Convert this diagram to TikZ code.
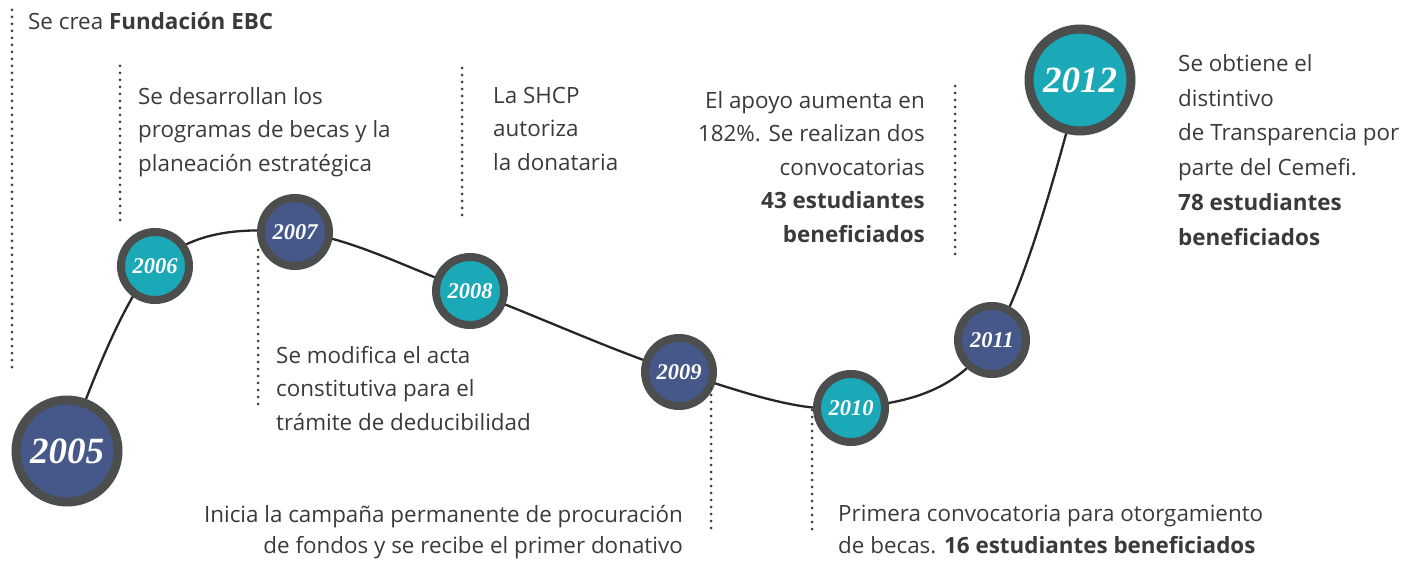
\documentclass[tikz,border=0pt]{standalone}
\usepackage{fontspec}
\setmainfont{Open Sans}
\newfontfamily\yearfont{Liberation Serif}
\usetikzlibrary{backgrounds}
\definecolor{ringgray}{HTML}{4B4E4D}
\definecolor{yblue}{HTML}{46588A}
\definecolor{yteal}{HTML}{1BA9B8}
\definecolor{txt}{HTML}{3A3A3A}
\definecolor{dotc}{HTML}{3C3C3C}
\begin{document}
\begin{tikzpicture}[x=1pt,y=-1pt,
  yr/.style={circle, draw=ringgray, line width=8pt, minimum size=68pt, inner sep=0pt,
    text=white, font=\yearfont\bfseries\itshape\fontsize{22.5}{22.5}\selectfont},
  bigyr/.style={yr, line width=9pt, minimum size=102pt, font=\yearfont\bfseries\itshape\fontsize{37}{37}\selectfont},
  info/.style={inner sep=0pt, text=txt, font=\fontsize{22.4}{33.5}\selectfont},
  dots/.style={dotc, line width=3pt, line cap=round, dash pattern=on 0pt off 7pt},
  tl/.style={line width=2.3pt, color=black!85}
]
\useasboundingbox (0,0) rectangle (1416,561);
% positions
\coordinate (p05) at (67,451);
\coordinate (p06) at (155,266);
\coordinate (p07) at (295,232);
\coordinate (p08) at (470,291);
\coordinate (p09) at (679,372);
\coordinate (p10) at (851,408);
\coordinate (p11) at (992,340);
\coordinate (p12) at (1080,80);
% timeline curve
\draw[tl] plot[smooth, tension=0.6] coordinates {(p05) (p06) (p07) (p08) (p09) (p10) (p11) (p12)};
% year circles
\node[bigyr, fill=yblue] (y05) at (p05) {2005};
\node[yr, fill=yteal] (y06) at (p06) {2006};
\node[yr, fill=yblue] (y07) at (p07) {2007};
\node[yr, fill=yteal] (y08) at (p08) {2008};
\node[yr, fill=yblue] (y09) at (p09) {2009};
\node[yr, fill=yteal] (y10) at (p10) {2010};
\node[yr, fill=yblue] (y11) at (p11) {2011};
\node[bigyr, fill=yteal] (y12) at (p12) {2012};
% dotted guides
\coordinate (d05a) at (12,10);  \coordinate (d05b) at (12,372);
\coordinate (d06a) at (120,66); \coordinate (d06b) at (120,222);
\coordinate (d07a) at (258,250); \coordinate (d07b) at (258,410);
\coordinate (d08a) at (462,68); \coordinate (d08b) at (462,220);
\coordinate (d09a) at (711,388); \coordinate (d09b) at (711,530);
\coordinate (d10a) at (812,410); \coordinate (d10b) at (812,530);
\coordinate (d11a) at (955,86); \coordinate (d11b) at (955,256);
\foreach \i in {05,06,07,08,09,10,11}{\draw[dots] (d\i a) -- (d\i b);}
% texts
\node[info, anchor=north west] (t05) at (28,12) {Se crea \textbf{Fundación EBC}};
\node[info, anchor=north west, align=left] (t06) at (138,87) {Se desarrollan los\\programas de becas y la\\planeación estratégica};
\node[info, anchor=north west, align=left] (t07) at (276,346) {Se modifica el acta\\constitutiva para el\\trámite de deducibilidad};
\node[info, anchor=north west, align=left] (t08) at (493,87) {La SHCP\\autoriza\\la donataria};
\node[info, anchor=north east, align=right, font=\fontsize{22.4}{31.5}\selectfont] (t09) at (683,505) {Inicia la campaña permanente de procuración\\de fondos y se recibe el primer donativo};
\node[info, anchor=north west, align=left, font=\fontsize{22.4}{31.5}\selectfont] (t10) at (838,505) {Primera convocatoria para otorgamiento\\de becas. \textbf{16 estudiantes beneficiados}};
\node[info, anchor=north east, align=right] (t11) at (925,91) {El apoyo aumenta en\\182\%. Se realizan dos\\convocatorias\\\textbf{43 estudiantes}\\\textbf{beneficiados}};
\node[info, anchor=north west, align=left, font=\fontsize{22.4}{34.8}\selectfont] (t12) at (1178,54) {Se obtiene el\\distintivo\\de Transparencia por\\parte del Cemefi.\\\textbf{78 estudiantes}\\\textbf{beneficiados}};
\end{tikzpicture}
\end{document}
